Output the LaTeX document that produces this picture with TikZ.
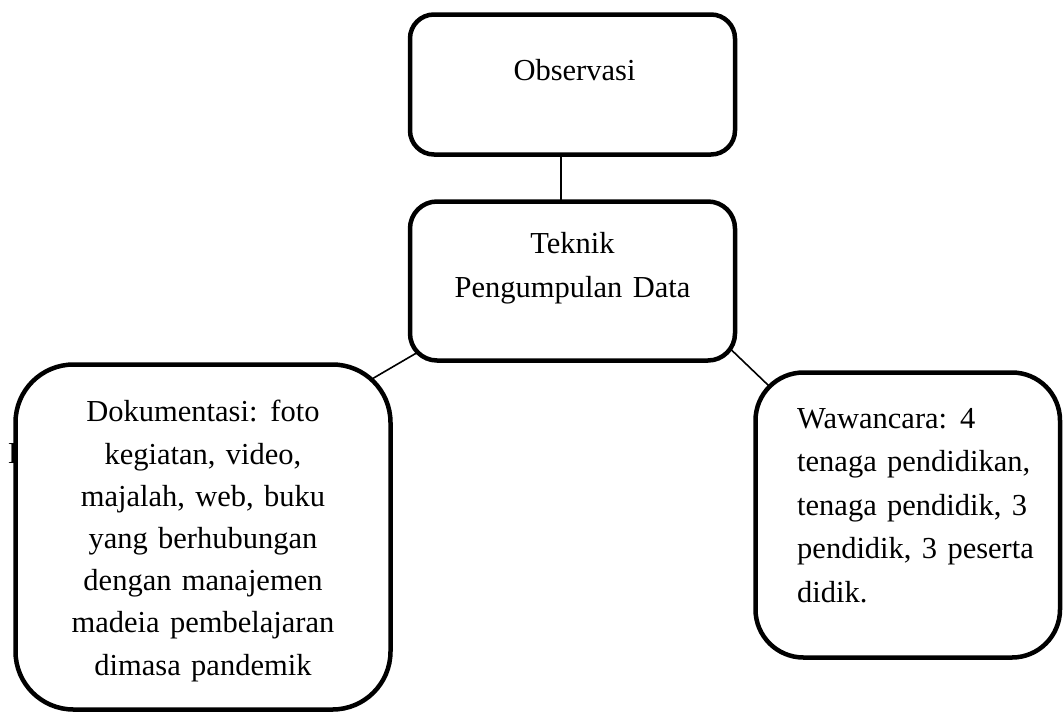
\documentclass[tikz,border=0pt]{standalone}
\usepackage{fontspec}
\setmainfont{Liberation Serif}
\usetikzlibrary{backgrounds}
\newcommand\diagfont[1]{\fontsize{30.5}{#1}\selectfont\spaceskip=0.34em plus 0.1em\relax}
\begin{document}
\begin{tikzpicture}[x=1pt,y=-1pt,
  box/.style={draw, line width=4.5pt, fill=white, rounded corners=#1, inner sep=0pt, outer sep=0pt},
  txt/.style={inner sep=0pt, font=\diagfont{43}},
  conn/.style={line width=1.6pt, shorten <=-25pt, shorten >=-25pt}]
\useasboundingbox (0,0) rectangle (1063,713);
% partly hidden letter behind the left box
\node[txt, anchor=base west] (hid) at (8,463) {D};
% boxes
\node[box=24pt, minimum width=325pt, minimum height=140pt] (obs) at (572.5,84.5) {};
\node[box=27pt, minimum width=325pt, minimum height=159pt] (tek) at (572.5,281) {};
\node[box=58pt, minimum width=375pt, minimum height=345pt] (dok) at (203,537) {};
\node[box=48pt, minimum width=304.5pt, minimum height=285pt] (waw) at (907.75,515) {};
% texts (base anchor = baseline of the last line)
\node[txt, anchor=base] (obsT) at (574.5,80) {Observasi};
\node[txt, align=center, anchor=base, font=\diagfont{44}] (tekT) at (572.5,297) {Teknik\\Pengumpulan Data};
\node[txt, align=center, anchor=base, font=\diagfont{42.2}] (dokT) at (203,675)
  {Dokumentasi: foto\\kegiatan, video,\\majalah, web, buku\\yang berhubungan\\dengan manajemen\\madeia pembelajaran\\dimasa pandemik};
\node[txt, align=left, anchor=base west, font=\diagfont{43.5}] (wawT) at (797,602)
  {Wawancara: 4\\tenaga pendidikan,\\tenaga pendidik, 3\\pendidik, 3 peserta\\didik.};
% connectors
\draw[line width=1.6pt] ([xshift=-11.5pt]obs.south) -- ([xshift=-11.5pt]tek.north);
\begin{pgfonlayer}{background}
  \draw[conn] (tek.205) -- (dok.42);
  \draw[conn] (tek.336) -- (waw.137);
\end{pgfonlayer}
\end{tikzpicture}
\end{document}
